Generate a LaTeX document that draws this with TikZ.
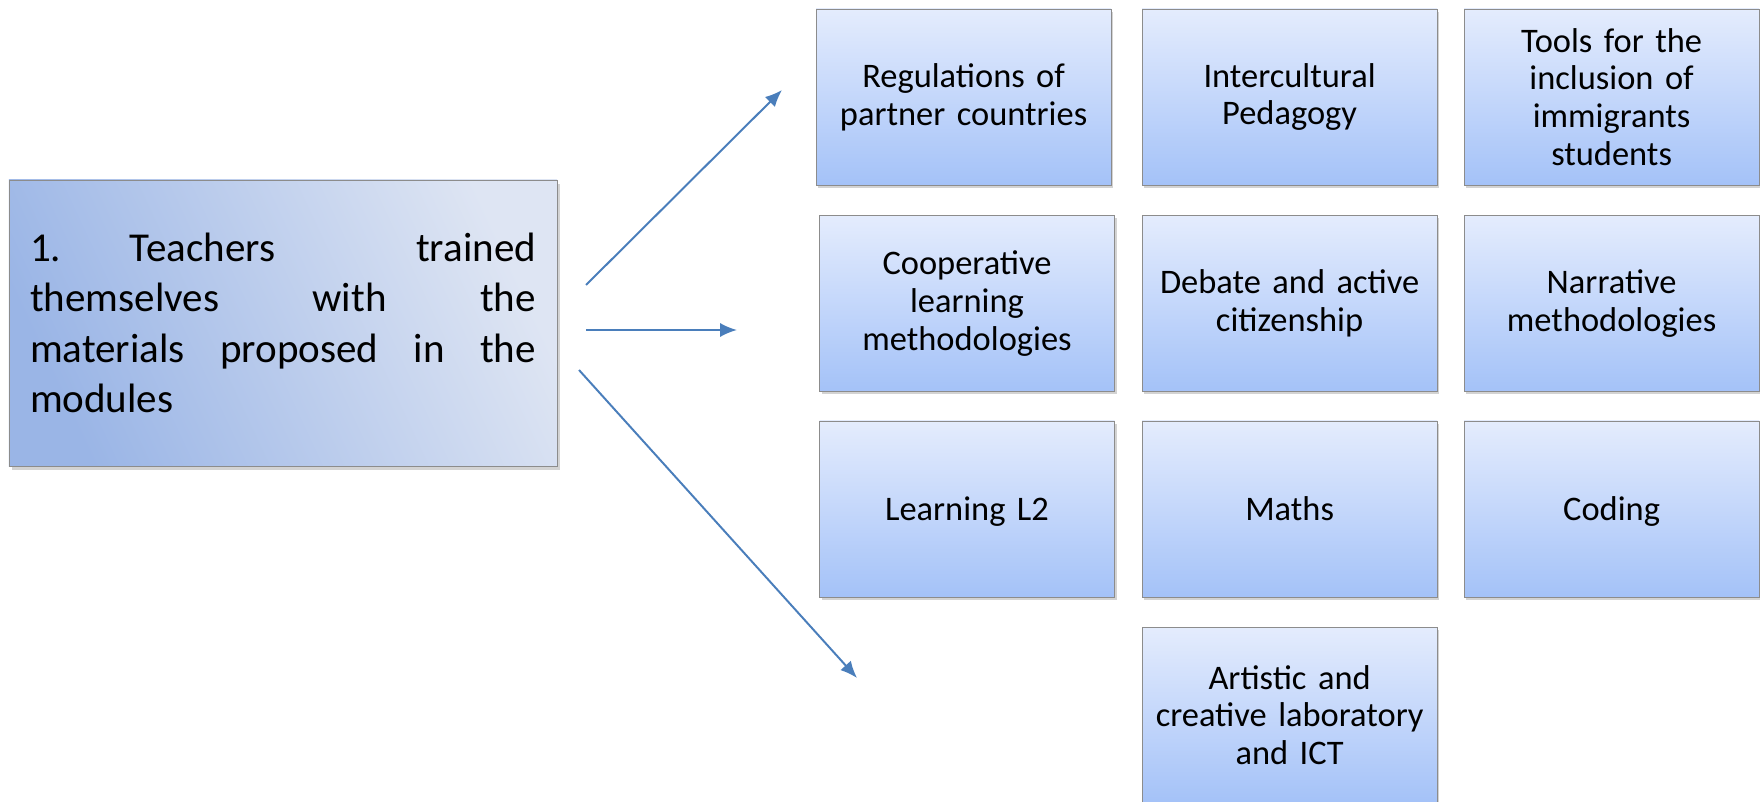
\documentclass[tikz,border=0pt]{standalone}
\usepackage{fontspec}
\setmainfont{Carlito}
\usepackage{tikz}
\usepackage{xcolor}
\usetikzlibrary{arrows.meta,shadows}

\definecolor{boxtop}{HTML}{E4ECFD}
\definecolor{boxbot}{HTML}{A4C2F8}
\definecolor{boxline}{HTML}{8C8C8C}
\definecolor{mainlight}{HTML}{DEE5F3}
\definecolor{maindark}{HTML}{9AB5E6}
\definecolor{arrowblue}{HTML}{4A7EBB}

\tikzset{
  module/.style={draw=boxline, line width=0.6pt, top color=boxtop, bottom color=boxbot,
    minimum width=7.375cm, minimum height=4.4cm, text width=7cm, align=center, inner sep=0pt,
    font=\fontsize{24.5}{26.8}\selectfont,
    drop shadow={shadow xshift=1.5pt, shadow yshift=-2pt, opacity=0.35}},
  oneline/.style={text depth=0pt},
  goal/.style={draw=boxline, line width=0.6pt, left color=maindark, right color=mainlight,
    shading angle=115, minimum width=13.7cm, minimum height=7.15cm, text width=12.65cm,
    align=justify, inner sep=0pt, font=\fontsize{29.2}{35.9}\selectfont,
    drop shadow={shadow xshift=2pt, shadow yshift=-3pt, opacity=0.35}},
  flow/.style={-{Latex[length=12pt,width=10pt]}, arrowblue, line width=1.4pt}
}

\begin{document}
\begin{tikzpicture}
                \useasboundingbox (0,0) rectangle (44,20.025);
                % starting box
                \node[goal] (teach) at (7.075,11.95) {1.\hspace{1.72cm}Teachers\hfill trained\linebreak themselves with the\linebreak materials proposed in the\linebreak modules};
                % modules
                \node[module] (reg) at (24.09,17.6) {Regulations of\\partner countries};
                \node[module] (inter) at (32.24,17.6) {Intercultural\\Pedagogy};
                \node[module] (tools) at (40.29,17.6) {Tools for the\\inclusion of\\immigrants\\students};
                \node[module] (coop) at (24.175,12.435) {Cooperative\\learning\\methodologies};
                \node[module] (debate) at (32.24,12.435) {Debate and active\\citizenship};
                \node[module] (narr) at (40.29,12.435) {Narrative\\methodologies};
                \node[module,oneline] (ltwo) at (24.175,7.3) {Learning L2};
                \node[module,oneline] (maths) at (32.24,7.3) {Maths};
                \node[module,oneline] (coding) at (40.29,7.3) {Coding};
                \node[module] (art) at (32.24,2.15) {Artistic and\\creative laboratory\\and ICT};
                % arrows
                \coordinate (upfrom) at (14.65,12.9);
                \coordinate (upto) at (19.55,17.775);
                \coordinate (midfrom) at (14.65,11.775);
                \coordinate (midto) at (18.425,11.775);
                \coordinate (downfrom) at (14.475,10.775);
                \coordinate (downto) at (21.425,3.075);
                \draw[flow] (upfrom) -- (upto);
                \draw[flow] (midfrom) -- (midto);
                \draw[flow] (downfrom) -- (downto);
            \end{tikzpicture}
\end{document}
